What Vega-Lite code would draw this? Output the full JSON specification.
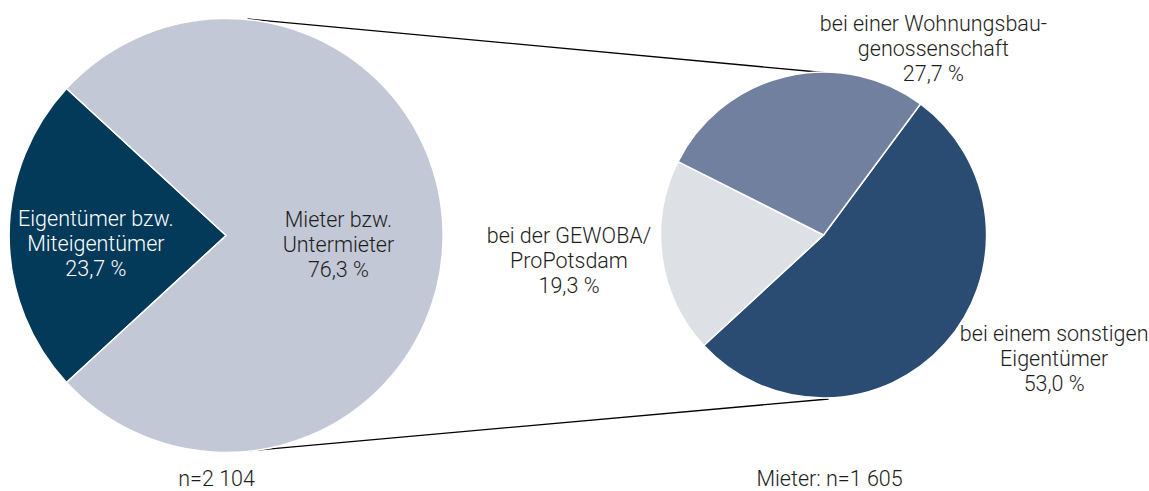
{
  "$schema": "https://vega.github.io/schema/vega-lite/v6.json",
  "width": 1149,
  "height": 491,
  "padding": 0,
  "autosize": {"type": "fit", "contains": "padding"},
  "background": "white",
  "config": {"view": {"stroke": null}},
  "datasets": {
    "alle": [
      {"gruppe": "Alle Befragten", "kategorie": "Eigentümer bzw. Miteigentümer", "anteil": 23.7, "nr": 1, "beschriftung": "Eigentümer bzw.\nMiteigentümer\n23,7 %"},
      {"gruppe": "Alle Befragten", "kategorie": "Mieter bzw. Untermieter", "anteil": 76.3, "nr": 2, "beschriftung": "Mieter bzw.\nUntermieter\n76,3 %"}
    ],
    "mieter": [
      {"gruppe": "Mieter", "kategorie": "bei einem sonstigen Eigentümer", "anteil": 53.0, "nr": 1, "beschriftung": "bei einem sonstigen\nEigentümer\n53,0 %"},
      {"gruppe": "Mieter", "kategorie": "bei der GEWOBA/ProPotsdam", "anteil": 19.3, "nr": 2, "beschriftung": "bei der GEWOBA/\nProPotsdam\n19,3 %"},
      {"gruppe": "Mieter", "kategorie": "bei einer Wohnungsbaugenossenschaft", "anteil": 27.7, "nr": 3, "beschriftung": "bei einer Wohnungsbau-\ngenossenschaft\n27,7 %"}
    ],
    "stichprobe": [
      {"gruppe": "Alle Befragten", "n": 2104, "beschriftung": "n=2 104"},
      {"gruppe": "Mieter", "n": 1605, "beschriftung": "Mieter: n=1 605"}
    ]
  },
  "layer": [
    {
      "data": {"name": "stichprobe"},
      "transform": [{"filter": "datum.gruppe == 'Mieter'"}],
      "mark": {"type": "rule", "stroke": "#000000", "strokeWidth": 1.3},
      "encoding": {
        "x": {"datum": 248, "type": "quantitative", "scale": {"domain": [0, 1149], "nice": false, "zero": false}, "axis": null},
        "y": {"datum": 19, "type": "quantitative", "scale": {"domain": [0, 491], "nice": false, "zero": false, "reverse": true}, "axis": null},
        "x2": {"datum": 830},
        "y2": {"datum": 73}
      }
    },
    {
      "data": {"name": "stichprobe"},
      "transform": [{"filter": "datum.gruppe == 'Mieter'"}],
      "mark": {"type": "rule", "stroke": "#000000", "strokeWidth": 1.3},
      "encoding": {
        "x": {"datum": 247, "type": "quantitative"},
        "y": {"datum": 451, "type": "quantitative"},
        "x2": {"datum": 830},
        "y2": {"datum": 399}
      }
    },
    {
      "data": {"name": "alle"},
      "mark": {"type": "arc", "radius": 217, "stroke": "#ffffff", "strokeWidth": 1.5},
      "encoding": {
        "x": {"datum": 226.5, "type": "quantitative"},
        "y": {"datum": 235.5, "type": "quantitative"},
        "theta": {"field": "anteil", "type": "quantitative", "stack": true, "scale": {"range": [3.968, 10.251]}},
        "order": {"field": "nr", "type": "quantitative"},
        "color": {
          "field": "kategorie", "type": "nominal", "legend": null,
          "scale": {
            "domain": ["Eigentümer bzw. Miteigentümer", "Mieter bzw. Untermieter", "bei einem sonstigen Eigentümer", "bei der GEWOBA/ProPotsdam", "bei einer Wohnungsbaugenossenschaft"],
            "range": ["#033a5a", "#c3c8d7", "#2a4c73", "#dde1e6", "#71809f"]
          }
        }
      }
    },
    {
      "data": {"name": "mieter"},
      "mark": {"type": "arc", "radius": 163, "stroke": "#ffffff", "strokeWidth": 1.5},
      "encoding": {
        "x": {"datum": 825, "type": "quantitative"},
        "y": {"datum": 235, "type": "quantitative"},
        "theta": {"field": "anteil", "type": "quantitative", "stack": true, "scale": {"range": [0.637, 6.920]}},
        "order": {"field": "nr", "type": "quantitative"},
        "color": {"field": "kategorie", "type": "nominal", "legend": null}
      }
    },
    {
      "data": {"name": "alle"},
      "transform": [{"filter": "datum.nr == 1"}],
      "mark": {"type": "text", "font": "Roboto", "fontWeight": 300, "fontSize": 21.5, "lineHeight": 25, "lineBreak": "\n", "align": "center", "baseline": "middle", "fill": "#ffffff"},
      "encoding": {
        "x": {"datum": 96, "type": "quantitative"},
        "y": {"datum": 220, "type": "quantitative"},
        "text": {"field": "beschriftung", "type": "nominal"}
      }
    },
    {
      "data": {"name": "alle"},
      "transform": [{"filter": "datum.nr == 2"}],
      "mark": {"type": "text", "font": "Roboto", "fontWeight": 300, "fontSize": 21.5, "lineHeight": 25, "lineBreak": "\n", "align": "center", "baseline": "middle", "fill": "#1d1d1b"},
      "encoding": {
        "x": {"datum": 339, "type": "quantitative"},
        "y": {"datum": 221, "type": "quantitative"},
        "text": {"field": "beschriftung", "type": "nominal"}
      }
    },
    {
      "data": {"name": "mieter"},
      "transform": [{"filter": "datum.nr == 1"}],
      "mark": {"type": "text", "font": "Roboto", "fontWeight": 300, "fontSize": 21.5, "lineHeight": 25, "lineBreak": "\n", "align": "center", "baseline": "middle", "fill": "#1d1d1b"},
      "encoding": {
        "x": {"datum": 1056, "type": "quantitative"},
        "y": {"datum": 335, "type": "quantitative"},
        "text": {"field": "beschriftung", "type": "nominal"}
      }
    },
    {
      "data": {"name": "mieter"},
      "transform": [{"filter": "datum.nr == 2"}],
      "mark": {"type": "text", "font": "Roboto", "fontWeight": 300, "fontSize": 21.5, "lineHeight": 25, "lineBreak": "\n", "align": "center", "baseline": "middle", "fill": "#1d1d1b"},
      "encoding": {
        "x": {"datum": 570, "type": "quantitative"},
        "y": {"datum": 237, "type": "quantitative"},
        "text": {"field": "beschriftung", "type": "nominal"}
      }
    },
    {
      "data": {"name": "mieter"},
      "transform": [{"filter": "datum.nr == 3"}],
      "mark": {"type": "text", "font": "Roboto", "fontWeight": 300, "fontSize": 21.5, "lineHeight": 25, "lineBreak": "\n", "align": "center", "baseline": "middle", "fill": "#1d1d1b"},
      "encoding": {
        "x": {"datum": 935, "type": "quantitative"},
        "y": {"datum": 25, "type": "quantitative"},
        "text": {"field": "beschriftung", "type": "nominal"}
      }
    },
    {
      "data": {"name": "stichprobe"},
      "transform": [{"filter": "datum.gruppe == 'Alle Befragten'"}],
      "mark": {"type": "text", "font": "Roboto", "fontWeight": 300, "fontSize": 21.5, "align": "center", "baseline": "middle", "fill": "#1d1d1b"},
      "encoding": {
        "x": {"datum": 217, "type": "quantitative"},
        "y": {"datum": 480, "type": "quantitative"},
        "text": {"field": "beschriftung", "type": "nominal"}
      }
    },
    {
      "data": {"name": "stichprobe"},
      "transform": [{"filter": "datum.gruppe == 'Mieter'"}],
      "mark": {"type": "text", "font": "Roboto", "fontWeight": 300, "fontSize": 21.5, "align": "center", "baseline": "middle", "fill": "#1d1d1b"},
      "encoding": {
        "x": {"datum": 831, "type": "quantitative"},
        "y": {"datum": 480, "type": "quantitative"},
        "text": {"field": "beschriftung", "type": "nominal"}
      }
    }
  ],
  "resolve": {"scale": {"theta": "independent"}}
}
